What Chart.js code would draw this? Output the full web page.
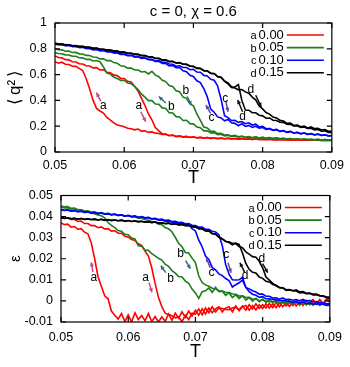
<!DOCTYPE html>
<html>
<head>
<meta charset="utf-8">
<script src="https://cdn.jsdelivr.net/npm/chart.js@4.4.0/dist/chart.umd.min.js"></script>
<style>
  body { margin: 0; background: #fff; width: 350px; height: 367px; overflow: hidden; position: relative; }
  canvas { position: absolute; left: 0; }
  #top { top: 0; }
  #bot { top: 180px; }
</style>
</head>
<body>
<canvas id="top" width="350" height="190"></canvas>
<canvas id="bot" width="350" height="187"></canvas>
<script>
// temperature grid shared by every curve
const T = [
  0.050,0.0505,0.051,0.0515,0.052,0.0525,0.053,0.0535,0.054,0.0545,
  0.055,0.0555,0.056,0.0565,0.057,0.0575,0.058,0.0585,0.059,0.0595,
  0.060,0.0605,0.061,0.0615,0.062,0.0625,0.063,0.0635,0.064,0.0645,
  0.065,0.0655,0.066,0.0665,0.067,0.0675,0.068,0.0685,0.069,0.0695,
  0.070,0.0705,0.071,0.0715,0.072,0.0725,0.073,0.0735,0.074,0.0745,
  0.075,0.0755,0.076,0.0765,0.077,0.0775,0.078,0.0785,0.079,0.0795,
  0.080,0.0805,0.081,0.0815,0.082,0.0825,0.083,0.0835,0.084,0.0845,
  0.085,0.0855,0.086,0.0865,0.087,0.0875,0.088,0.0885,0.089,0.0895,
  0.090
];

const seriesLetters = ['a', 'b', 'c', 'd'];
const seriesValues = ['0.00', '0.05', '0.10', '0.15'];

// <q^2>, branch 1 = lower-T transition, branch 2 = higher-T transition
const qA1 = [
  0.700,0.688,0.696,0.680,0.678,0.665,0.664,0.648,0.632,0.570,
  0.490,0.400,0.338,0.318,0.302,0.268,0.248,0.226,0.210,0.204,
  0.196,0.184,0.180,0.172,0.178,0.162,0.164,0.152,0.156,0.146,
  0.144,0.136,0.138,0.128,0.131,0.122,0.125,0.118,0.121,0.114,
  0.117,0.111,0.114,0.108,0.112,0.106,0.109,0.105,0.107,0.103,
  0.106,0.102,0.105,0.100,0.103,0.099,0.102,0.098,0.101,0.097,
  0.100,0.097,0.099,0.096,0.098,0.095,0.097,0.094,0.096,0.093,
  0.095,0.093,0.094,0.092,0.093,0.091,0.093,0.090,0.092,0.089,
  0.090
];
const qA2 = [
  0.745,0.732,0.730,0.716,0.714,0.700,0.698,0.684,0.682,0.668,
  0.667,0.652,0.654,0.636,0.638,0.618,0.615,0.596,0.592,0.570,
  0.570,0.548,0.542,0.510,0.472,0.415,0.360,0.295,0.250,0.190,
  0.164,0.140,0.140,0.126,0.130,0.118,0.123,0.115,0.119,0.112,
  0.116,0.109,0.113,0.108,0.111,0.106,0.109,0.104,0.108,0.103,
  0.106,0.101,0.105,0.100,0.104,0.099,0.102,0.098,0.101,0.097,
  0.100,0.096,0.099,0.095,0.098,0.095,0.097,0.094,0.096,0.093,
  0.095,0.092,0.094,0.091,0.093,0.091,0.092,0.090,0.091,0.089,
  0.090
];
const qB1 = [
  0.770,0.764,0.762,0.753,0.752,0.742,0.742,0.731,0.730,0.718,
  0.719,0.706,0.709,0.700,0.660,0.612,0.604,0.580,0.570,0.555,
  0.555,0.534,0.530,0.508,0.485,0.448,0.425,0.398,0.398,0.372,
  0.370,0.342,0.338,0.305,0.302,0.274,0.272,0.244,0.246,0.220,
  0.218,0.194,0.188,0.164,0.165,0.147,0.150,0.134,0.137,0.124,
  0.129,0.119,0.124,0.115,0.120,0.112,0.117,0.110,0.115,0.108,
  0.113,0.106,0.111,0.104,0.109,0.102,0.107,0.101,0.105,0.099,
  0.103,0.097,0.101,0.096,0.099,0.094,0.098,0.093,0.096,0.092,
  0.094
];
const qB2 = [
  0.800,0.793,0.792,0.781,0.782,0.771,0.772,0.761,0.760,0.749,
  0.748,0.737,0.734,0.722,0.722,0.708,0.708,0.693,0.688,0.668,
  0.665,0.650,0.650,0.636,0.636,0.620,0.624,0.605,0.626,0.596,
  0.584,0.556,0.546,0.515,0.508,0.475,0.468,0.425,0.416,0.372,
  0.358,0.295,0.245,0.194,0.186,0.160,0.160,0.143,0.145,0.131,
  0.134,0.123,0.129,0.118,0.124,0.114,0.120,0.111,0.117,0.109,
  0.114,0.107,0.111,0.104,0.109,0.102,0.107,0.101,0.105,0.099,
  0.103,0.097,0.101,0.096,0.099,0.094,0.098,0.093,0.096,0.092,
  0.094
];
const qC1 = [
  0.836,0.832,0.831,0.826,0.826,0.818,0.818,0.811,0.812,0.802,
  0.802,0.793,0.794,0.786,0.786,0.777,0.778,0.768,0.768,0.757,
  0.758,0.746,0.749,0.736,0.739,0.726,0.729,0.716,0.714,0.702,
  0.703,0.686,0.686,0.668,0.670,0.654,0.655,0.630,0.622,0.594,
  0.586,0.552,0.538,0.492,0.428,0.332,0.308,0.272,0.264,0.242,
  0.252,0.226,0.222,0.204,0.220,0.198,0.206,0.190,0.200,0.184,
  0.190,0.175,0.181,0.170,0.175,0.160,0.166,0.154,0.160,0.147,
  0.152,0.141,0.147,0.136,0.142,0.132,0.138,0.128,0.134,0.124,
  0.127
];
const qC2 = [
  0.838,0.833,0.834,0.825,0.828,0.818,0.820,0.810,0.813,0.803,
  0.804,0.794,0.796,0.785,0.788,0.778,0.779,0.769,0.770,0.759,
  0.760,0.749,0.750,0.740,0.740,0.730,0.730,0.719,0.718,0.706,
  0.708,0.696,0.695,0.682,0.680,0.665,0.668,0.655,0.655,0.638,
  0.641,0.620,0.618,0.594,0.590,0.564,0.556,0.512,0.408,0.282,
  0.266,0.244,0.246,0.230,0.236,0.219,0.226,0.209,0.216,0.194,
  0.198,0.180,0.182,0.167,0.173,0.159,0.165,0.152,0.158,0.146,
  0.153,0.142,0.148,0.137,0.143,0.133,0.139,0.129,0.134,0.125,
  0.128
];
const qD1 = [
  0.840,0.837,0.836,0.830,0.831,0.824,0.825,0.818,0.819,0.811,
  0.812,0.804,0.805,0.797,0.797,0.790,0.790,0.782,0.782,0.773,
  0.774,0.765,0.766,0.757,0.757,0.747,0.748,0.737,0.738,0.726,
  0.725,0.712,0.713,0.701,0.703,0.691,0.693,0.680,0.679,0.666,
  0.663,0.650,0.648,0.631,0.628,0.611,0.607,0.585,0.578,0.550,
  0.536,0.506,0.504,0.522,0.400,0.326,0.324,0.305,0.304,0.285,
  0.280,0.262,0.264,0.246,0.244,0.231,0.230,0.216,0.214,0.202,
  0.204,0.191,0.194,0.182,0.184,0.171,0.174,0.161,0.164,0.151,
  0.152
];
const qD2 = [
  0.842,0.838,0.837,0.832,0.830,0.826,0.823,0.820,0.817,0.813,
  0.811,0.805,0.804,0.798,0.797,0.790,0.790,0.783,0.782,0.774,
  0.774,0.766,0.766,0.758,0.757,0.748,0.747,0.738,0.737,0.727,
  0.726,0.714,0.714,0.702,0.702,0.690,0.692,0.680,0.680,0.665,
  0.664,0.648,0.648,0.630,0.630,0.609,0.609,0.584,0.580,0.548,
  0.528,0.500,0.496,0.482,0.484,0.466,0.456,0.426,0.404,0.356,
  0.334,0.306,0.294,0.271,0.264,0.246,0.240,0.222,0.224,0.206,
  0.209,0.196,0.200,0.186,0.194,0.181,0.184,0.171,0.174,0.161,
  0.162
];

// epsilon
const eA1 = [
  0.0370,0.0362,0.0364,0.0350,0.0353,0.0340,0.0343,0.0326,0.0318,0.0276,
  0.0202,0.0116,0.0070,0.0024,0.0010,-0.0048,-0.0068,-0.0086,-0.0060,-0.0098,
  -0.0066,-0.0100,-0.0056,-0.0088,-0.0070,-0.0094,-0.0060,-0.0098,-0.0074,-0.0100,
  -0.0076,-0.0096,-0.0062,-0.0092,-0.0058,-0.0082,-0.0052,-0.0078,-0.0048,-0.0072,
  -0.0044,-0.0068,-0.0038,-0.0062,-0.0034,-0.0056,-0.0038,-0.0028,-0.0052,-0.0034,
  -0.0028,-0.0052,-0.0024,-0.0046,-0.0028,-0.0022,-0.0044,-0.0022,-0.0042,-0.0018,
  -0.0036,-0.0014,-0.0034,-0.0014,-0.0032,-0.0008,-0.0028,-0.0008,-0.0026,-0.0004,
  -0.0024,-0.0004,-0.0022,0.0002,-0.0018,0.0002,-0.0016,0.0006,-0.0014,0.0006,
  -0.0006
];
const eA2 = [
  0.0396,0.0391,0.0393,0.0386,0.0387,0.0377,0.0379,0.0367,0.0367,0.0357,
  0.0357,0.0347,0.0351,0.0341,0.0343,0.0331,0.0333,0.0321,0.0321,0.0307,
  0.0303,0.0291,0.0287,0.0271,0.0263,0.0237,0.0213,0.0157,0.0083,0.0017,
  -0.0027,-0.0058,-0.0064,-0.0070,-0.0080,-0.0076,-0.0098,-0.0068,-0.0088,-0.0058,
  -0.0062,-0.0038,-0.0066,-0.0034,-0.0056,-0.0028,-0.0052,-0.0034,-0.0036,-0.0040,
  -0.0042,-0.0034,-0.0030,-0.0042,-0.0024,-0.0044,-0.0018,-0.0038,-0.0014,-0.0036,
  -0.0018,-0.0034,-0.0012,-0.0032,-0.0008,-0.0028,-0.0004,-0.0024,-0.0006,-0.0022,
  -0.0002,-0.0020,0.0002,-0.0016,-0.0006,0.0006,-0.0014,0.0004,-0.0016,0.0010,
  0.0000
];
const eB1 = [
  0.0450,0.0446,0.0447,0.0439,0.0440,0.0433,0.0432,0.0424,0.0422,0.0416,
  0.0414,0.0408,0.0404,0.0394,0.0372,0.0358,0.0348,0.0334,0.0330,0.0316,
  0.0314,0.0298,0.0294,0.0262,0.0260,0.0240,0.0240,0.0224,0.0214,0.0202,
  0.0194,0.0174,0.0164,0.0144,0.0132,0.0116,0.0114,0.0094,0.0084,0.0056,
  0.0038,0.0012,0.0044,0.0048,0.0062,0.0041,0.0064,0.0044,0.0046,0.0026,
  0.0039,0.0016,0.0029,0.0011,0.0024,0.0004,0.0016,-0.0001,0.0012,-0.0004,
  0.0009,-0.0007,0.0006,-0.0009,0.0004,-0.0012,0.0001,-0.0014,-0.0001,-0.0016,
  -0.0004,-0.0017,-0.0006,-0.0019,-0.0006,-0.0020,-0.0008,-0.0022,-0.0009,-0.0019,
  -0.0015
];
const eB2 = [
  0.0445,0.0441,0.0442,0.0435,0.0437,0.0430,0.0432,0.0426,0.0427,0.0421,
  0.0422,0.0416,0.0419,0.0413,0.0415,0.0410,0.0412,0.0406,0.0408,0.0402,
  0.0404,0.0398,0.0399,0.0392,0.0392,0.0385,0.0384,0.0376,0.0374,0.0364,
  0.0362,0.0348,0.0342,0.0328,0.0302,0.0273,0.0257,0.0230,0.0227,0.0203,
  0.0182,0.0118,0.0087,0.0076,0.0070,0.0060,0.0057,0.0048,0.0047,0.0040,
  0.0040,0.0033,0.0032,0.0023,0.0024,0.0016,0.0017,0.0008,0.0010,0.0001,
  0.0005,-0.0002,-0.0001,-0.0002,-0.0003,-0.0005,-0.0006,-0.0007,-0.0008,-0.0010,
  -0.0010,-0.0012,-0.0012,-0.0014,-0.0013,-0.0015,-0.0014,-0.0016,-0.0015,-0.0017,
  -0.0016
];
const eC1 = [
  0.0433,0.0430,0.0432,0.0426,0.0429,0.0423,0.0426,0.0420,0.0423,0.0418,
  0.0420,0.0415,0.0417,0.0411,0.0414,0.0408,0.0411,0.0405,0.0408,0.0402,
  0.0405,0.0399,0.0402,0.0396,0.0399,0.0393,0.0395,0.0388,0.0390,0.0383,
  0.0384,0.0378,0.0379,0.0373,0.0374,0.0368,0.0368,0.0360,0.0362,0.0343,
  0.0332,0.0288,0.0257,0.0213,0.0197,0.0158,0.0147,0.0128,0.0120,0.0106,
  0.0097,0.0066,0.0077,0.0086,0.0099,0.0064,0.0044,0.0032,0.0027,0.0017,
  0.0020,0.0010,0.0010,0.0008,0.0005,0.0003,0.0002,0.0000,-0.0001,-0.0007,
  -0.0003,-0.0010,-0.0004,-0.0012,-0.0010,-0.0015,-0.0013,-0.0016,-0.0016,-0.0022,
  -0.0020
];
const eC2 = [
  0.0432,0.0429,0.0431,0.0426,0.0428,0.0423,0.0425,0.0420,0.0422,0.0417,
  0.0420,0.0414,0.0417,0.0412,0.0414,0.0409,0.0411,0.0406,0.0408,0.0403,
  0.0406,0.0400,0.0403,0.0397,0.0400,0.0394,0.0396,0.0390,0.0392,0.0386,
  0.0388,0.0382,0.0383,0.0377,0.0378,0.0372,0.0373,0.0366,0.0367,0.0359,
  0.0357,0.0350,0.0350,0.0340,0.0340,0.0330,0.0327,0.0314,0.0262,0.0173,
  0.0127,0.0100,0.0099,0.0100,0.0112,0.0064,0.0057,0.0048,0.0042,0.0032,
  0.0032,0.0022,0.0022,0.0014,0.0015,0.0008,0.0014,0.0006,0.0008,0.0003,
  0.0006,0.0001,0.0007,0.0000,0.0002,-0.0005,-0.0003,-0.0010,-0.0008,-0.0014,
  -0.0013
];
const eD1 = [
  0.0394,0.0391,0.0393,0.0390,0.0392,0.0388,0.0391,0.0387,0.0389,0.0386,
  0.0388,0.0384,0.0387,0.0383,0.0385,0.0382,0.0384,0.0380,0.0383,0.0379,
  0.0381,0.0377,0.0379,0.0376,0.0378,0.0374,0.0376,0.0372,0.0374,0.0370,
  0.0371,0.0367,0.0369,0.0364,0.0366,0.0361,0.0363,0.0358,0.0359,0.0353,
  0.0350,0.0343,0.0342,0.0333,0.0332,0.0320,0.0317,0.0303,0.0294,0.0283,
  0.0277,0.0266,0.0274,0.0268,0.0227,0.0178,0.0150,0.0136,0.0132,0.0113,
  0.0107,0.0093,0.0090,0.0078,0.0074,0.0064,0.0062,0.0053,0.0054,0.0048,
  0.0047,0.0038,0.0040,0.0034,0.0037,0.0032,0.0032,0.0026,0.0024,0.0018,
  0.0018
];
const eD2 = [
  0.0395,0.0392,0.0394,0.0390,0.0392,0.0388,0.0391,0.0386,0.0390,0.0385,
  0.0388,0.0384,0.0387,0.0382,0.0386,0.0381,0.0384,0.0380,0.0383,0.0378,
  0.0381,0.0377,0.0380,0.0375,0.0378,0.0373,0.0376,0.0371,0.0374,0.0369,
  0.0371,0.0366,0.0369,0.0363,0.0366,0.0360,0.0363,0.0357,0.0358,0.0352,
  0.0351,0.0342,0.0342,0.0332,0.0332,0.0319,0.0317,0.0302,0.0294,0.0282,
  0.0280,0.0273,0.0272,0.0258,0.0252,0.0233,0.0222,0.0210,0.0207,0.0188,
  0.0157,0.0113,0.0099,0.0083,0.0072,0.0063,0.0062,0.0050,0.0052,0.0048,
  0.0052,0.0043,0.0044,0.0036,0.0036,0.0028,0.0029,0.0023,0.0022,0.0016,
  0.0010
];

const xTicks = [0.05, 0.06, 0.07, 0.08, 0.09];
const xTickLabels = ['0.05', '0.06', '0.07', '0.08', '0.09'];
const qTicks = [0, 0.2, 0.4, 0.6, 0.8, 1];
const qTickLabels = ['0', '0.2', '0.4', '0.6', '0.8', '1'];
const eTicks = [-0.01, 0, 0.01, 0.02, 0.03, 0.04, 0.05];
const eTickLabels = ['-0.01', '0', '0.01', '0.02', '0.03', '0.04', '0.05'];

// curve letters and hysteresis arrows, in data units [T, value]
const qLetterPos = [[0.0570,0.357],[0.0621,0.357],[0.0668,0.351],[0.0689,0.475],[0.0726,0.269],[0.0746,0.416],[0.0771,0.274],[0.0783,0.486]];
const qArrows = [[0.0566,0.395,0.0560,0.46],[0.0624,0.312,0.0631,0.235],[0.0660,0.38,0.0650,0.43],[0.0691,0.43,0.0697,0.364],
                 [0.0725,0.30,0.0718,0.364],[0.0747,0.39,0.0750,0.312],[0.0771,0.312,0.0764,0.403],[0.0790,0.44,0.0798,0.35]];
const eLetterPos = [[0.0549,0.0112],[0.0626,0.0112],[0.0663,0.0106],[0.0678,0.0222],[0.0724,0.0136],[0.0746,0.0219],[0.0774,0.0120],[0.0799,0.0199]];
const eArrows = [[0.05475,0.0136,0.05451,0.0183],[0.0631,0.0087,0.06353,0.0041],[0.06559,0.0134,0.06485,0.0167],[0.06853,0.0191,0.06926,0.0153],
                 [0.0722,0.0158,0.07162,0.0205],[0.07485,0.0181,0.0753,0.0134],[0.07735,0.0134,0.07662,0.0181],[0.0800,0.0177,0.08074,0.0134]];

const lineColors = ['#ff0000', '#1c7d1c', '#0000ff', '#000000'];
const arrowColors = ['#c8488e', '#2e6e78', '#6a44b0', '#111111'];
const FONT = '"Liberation Sans", Arial, Helvetica, sans-serif';
Chart.defaults.font.family = FONT;
Chart.defaults.color = '#000';

function drawArrow(ctx, x1, y1, x2, y2) {
  const ang = Math.atan2(y2 - y1, x2 - x1), h = 4.5;
  ctx.beginPath(); ctx.moveTo(x1, y1); ctx.lineTo(x2, y2); ctx.stroke();
  ctx.beginPath();
  ctx.moveTo(x2, y2);
  ctx.lineTo(x2 - h * Math.cos(ang - 0.5), y2 - h * Math.sin(ang - 0.5));
  ctx.lineTo(x2 - h * Math.cos(ang + 0.5), y2 - h * Math.sin(ang + 0.5));
  ctx.closePath(); ctx.fill();
}

// gnuplot style box, inward ticks, key, curve letters and arrows
const framePlugin = {
  id: 'frame',
  afterDatasetsDraw(chart, args, opts) {
    const { ctx, chartArea: a, scales: { x, y } } = chart;
    ctx.save();
    ctx.strokeStyle = '#000'; ctx.lineWidth = 1.2;
    ctx.strokeRect(a.left, a.top, a.right - a.left, a.bottom - a.top);
    ctx.beginPath();
    x.ticks.forEach(t => {
      const px = x.getPixelForValue(t.value);
      ctx.moveTo(px, a.bottom); ctx.lineTo(px, a.bottom - 5);
      ctx.moveTo(px, a.top); ctx.lineTo(px, a.top + 5);
    });
    y.ticks.forEach(t => {
      const py = y.getPixelForValue(t.value);
      ctx.moveTo(a.left, py); ctx.lineTo(a.left + 5, py);
      ctx.moveTo(a.right, py); ctx.lineTo(a.right - 5, py);
    });
    ctx.stroke();

    // arrows and letters
    ctx.lineWidth = 1.5;
    opts.arrows.forEach((r, i) => {
      const c = arrowColors[Math.floor(i / 2)];
      ctx.strokeStyle = c; ctx.fillStyle = c;
      drawArrow(ctx, x.getPixelForValue(r[0]), y.getPixelForValue(r[1]), x.getPixelForValue(r[2]), y.getPixelForValue(r[3]));
    });
    ctx.fillStyle = '#000';
    ctx.font = '12px ' + FONT;
    ctx.textAlign = 'center'; ctx.textBaseline = 'middle';
    opts.letters.forEach((p, i) => {
      ctx.fillText(seriesLetters[Math.floor(i / 2)], x.getPixelForValue(p[0]), y.getPixelForValue(p[1]));
    });

    // key
    seriesLetters.forEach((l, k) => {
      const ry = a.top + 12 + k * 12.6;
      const lx1 = a.right - 45, lx2 = a.right - 8;
      ctx.strokeStyle = lineColors[k]; ctx.lineWidth = 1.6;
      ctx.beginPath(); ctx.moveTo(lx1, ry); ctx.lineTo(lx2, ry); ctx.stroke();
      ctx.fillStyle = '#000';
      ctx.textAlign = 'right';
      ctx.font = '13px ' + FONT;
      const numRight = lx1 - 3;
      ctx.fillText(seriesValues[k], numRight, ry);
      const w = ctx.measureText(seriesValues[k]).width;
      ctx.font = '11px ' + FONT;
      ctx.fillText(l, numRight - w - 2, ry + 1);
    });

    if (opts.title) {
      ctx.font = '15px ' + FONT;
      ctx.textAlign = 'center';
      ctx.fillText(opts.title, (a.left + a.right) / 2, 12);
    }
    ctx.restore();
  }
};

function makePanel(id, cfg) {
  const branches = [cfg.a1, cfg.a2, cfg.b1, cfg.b2, cfg.c1, cfg.c2, cfg.d1, cfg.d2];
  const datasets = branches.map((vals, i) => ({
    data: T.map((t, j) => ({ x: t, y: vals[j] })),
    borderColor: lineColors[Math.floor(i / 2)],
    borderWidth: 1.6,
    pointRadius: 0,
    tension: 0,
    fill: false,
    order: 4 - Math.floor(i / 2)
  }));
  return new Chart(document.getElementById(id), {
    type: 'line',
    data: { datasets },
    plugins: [framePlugin],
    options: {
      responsive: false,
      devicePixelRatio: 1,
      animation: false,
      layout: { padding: { top: cfg.padTop, right: cfg.padRight, left: 0, bottom: 0 } },
      plugins: {
        legend: { display: false },
        tooltip: { enabled: false },
        frame: { arrows: cfg.arrows, letters: cfg.letters, title: cfg.title }
      },
      scales: {
        x: {
          type: 'linear', min: 0.05, max: 0.09,
          afterBuildTicks: s => { s.ticks = xTicks.map(v => ({ value: v })); },
          afterFit: s => { s.height = cfg.xAxisH; },
          ticks: { autoSkip: false, maxRotation: 0, padding: cfg.xTickPad, font: { size: 12.5 }, callback: (v, i) => xTickLabels[i] },
          grid: { display: false, drawTicks: false },
          border: { display: false },
          title: { display: true, text: 'T', font: { size: 18 }, padding: { top: 0, bottom: cfg.xTitlePad } }
        },
        y: {
          type: 'linear', min: cfg.yMin, max: cfg.yMax,
          afterBuildTicks: s => { s.ticks = cfg.yTicks.map(v => ({ value: v })); },
          afterFit: s => { s.width = cfg.yAxisW; },
          ticks: { autoSkip: false, padding: 8, font: { size: 12.5 }, callback: (v, i) => cfg.yTickLabels[i] },
          grid: { display: false, drawTicks: false },
          border: { display: false },
          title: { display: true, text: cfg.yTitle, font: { size: cfg.yTitleSize }, padding: { top: cfg.yTitlePad, bottom: 0 } }
        }
      }
    }
  });
}

makePanel('top', {
  a1: qA1, a2: qA2, b1: qB1, b2: qB2, c1: qC1, c2: qC2, d1: qD1, d2: qD2,
  yMin: 0, yMax: 1, yTicks: qTicks, yTickLabels: qTickLabels,
  yTitle: '\u27E8\u2009q\u00B2\u2009\u27E9', yTitleSize: 17, yTitlePad: 5,
  padTop: 23, padRight: 15, xAxisH: 38, yAxisW: 55, xTickPad: 6, xTitlePad: 1,
  arrows: qArrows, letters: qLetterPos, title: 'c = 0, \u03C7 = 0.6'
});

makePanel('bot', {
  a1: eA1, a2: eA2, b1: eB1, b2: eB2, c1: eC1, c2: eC2, d1: eD1, d2: eD2,
  yMin: -0.01, yMax: 0.05, yTicks: eTicks, yTickLabels: eTickLabels,
  yTitle: '\u03B5', yTitleSize: 15, yTitlePad: 7,
  padTop: 14, padRight: 17, xAxisH: 45, yAxisW: 61, xTickPad: 8, xTitlePad: 4,
  arrows: eArrows, letters: eLetterPos, title: null
});
</script>
</body>
</html>
